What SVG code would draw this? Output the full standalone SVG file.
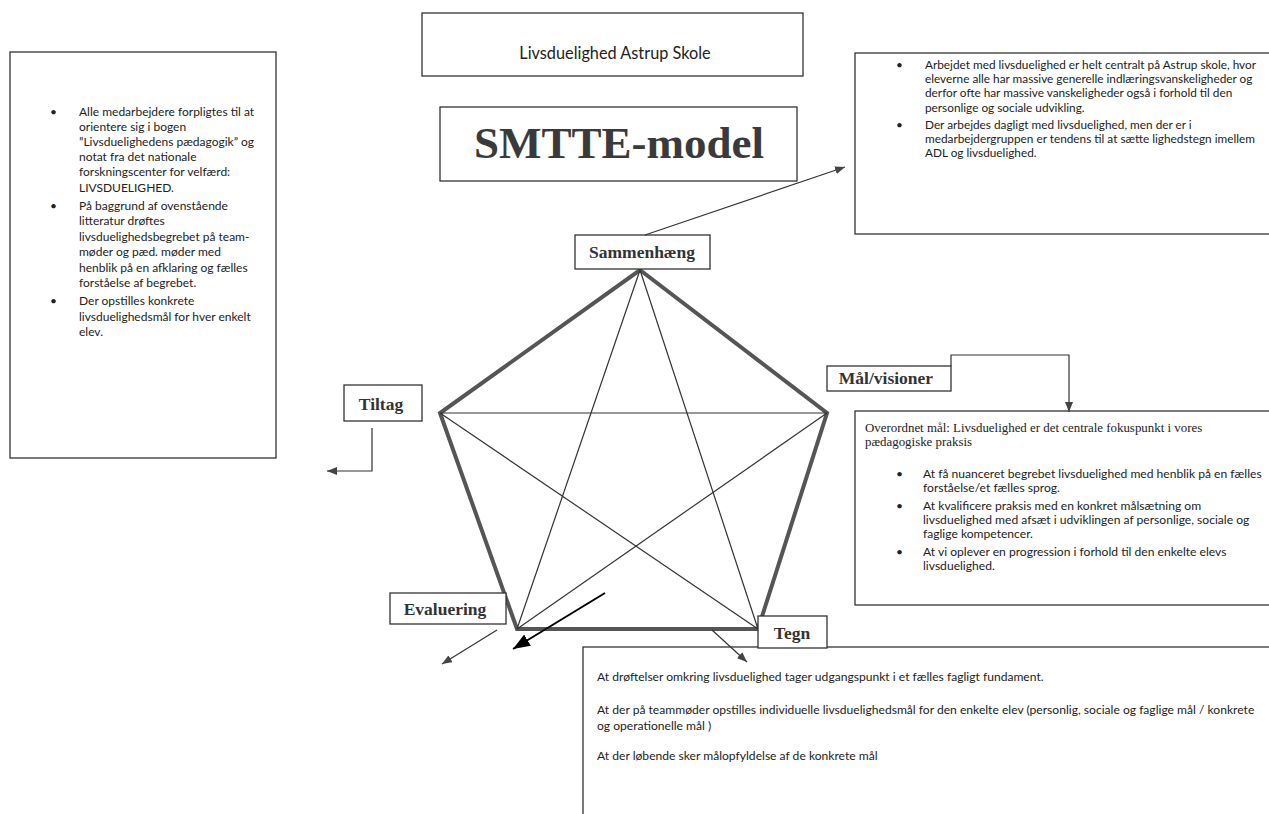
<svg xmlns="http://www.w3.org/2000/svg" width="1269" height="814" viewBox="0 0 1269 814">
<defs>
<style>
.box{fill:#fff;stroke:#333;stroke-width:1.3}
.txt{font-family:Lato,"Liberation Sans",sans-serif;font-size:11.8px;fill:#222}
.tl{font-size:12px}
.tb{font-size:12.1px}
.ser{font-family:"Liberation Serif","Times New Roman",serif;font-size:12.9px;fill:#222}
.lbl{font-family:"Liberation Serif","Times New Roman",serif;font-weight:bold;font-size:17.5px;fill:#333}
.edge{fill:none;stroke:#555;stroke-width:4;stroke-linejoin:miter}
.diag{stroke:#333;stroke-width:1.2}
.con{fill:none;stroke:#333;stroke-width:1.2}
.big{fill:none;stroke:#000;stroke-width:2}
</style>
<marker id="arr" markerUnits="userSpaceOnUse" markerWidth="11" markerHeight="9" refX="10" refY="4" orient="auto">
<path d="M0,0 L10,4 L0,8 z" fill="#444"/>
</marker>
<marker id="arrBig" markerUnits="userSpaceOnUse" markerWidth="18" markerHeight="14" refX="17" refY="6.5" orient="auto">
<path d="M0,0 L17,6.5 L0,13 z" fill="#000"/>
</marker>
</defs>
<rect width="1269" height="814" fill="#fff"/>

<g id="pentagon">
<polygon class="edge" points="640,270 827,413 758,629 517,629 440,413"/>
<line class="diag" x1="640" y1="270" x2="517" y2="629"/>
<line class="diag" x1="640" y1="270" x2="758" y2="629"/>
<line class="diag" x1="440" y1="413" x2="827" y2="413"/>
<line class="diag" x1="440" y1="413" x2="758" y2="629"/>
<line class="diag" x1="827" y1="413" x2="517" y2="629"/>
</g>

<g id="left-box">
<rect class="box" x="10" y="52" width="266" height="406"/>
<g class="txt tl">
<text x="50" y="116">•</text>
<text x="79" y="116">Alle medarbejdere forpligtes til at</text>
<text x="79" y="131">orientere sig i bogen</text>
<text x="79" y="146">”Livsduelighedens pædagogik” og</text>
<text x="79" y="161">notat fra det nationale</text>
<text x="79" y="176">forskningscenter for velfærd:</text>
<text x="79" y="192">LIVSDUELIGHED.</text>
<text x="50" y="210">•</text>
<text x="79" y="210">På baggrund af ovenstående</text>
<text x="79" y="225">litteratur drøftes</text>
<text x="79" y="241">livsduelighedsbegrebet på team-</text>
<text x="79" y="256">møder og pæd. møder med</text>
<text x="79" y="272">henblik på en afklaring og fælles</text>
<text x="79" y="287">forståelse af begrebet.</text>
<text x="50" y="305">•</text>
<text x="79" y="305">Der opstilles konkrete</text>
<text x="79" y="321">livsduelighedsmål for hver enkelt</text>
<text x="79" y="336">elev.</text>
</g>
</g>

<g id="title">
<rect class="box" x="422" y="13" width="381" height="63"/>
<text x="615" y="59" text-anchor="middle" style="font-family:Lato,'Liberation Sans',sans-serif;font-size:16.3px;fill:#222">Livsduelighed Astrup Skole</text>
</g>

<g id="smtte">
<rect class="box" x="440" y="107" width="357" height="74"/>
<text x="619" y="158" text-anchor="middle" style="font-family:'Liberation Serif','Times New Roman',serif;font-weight:bold;font-size:45px;fill:#3a3a3a">SMTTE-model</text>
</g>

<g id="context-box">
<rect class="box" x="855" y="53" width="430" height="181"/>
<g class="txt">
<text x="896" y="69">•</text>
<text x="925" y="69">Arbejdet med livsduelighed er helt centralt på Astrup skole, hvor</text>
<text x="925" y="83">eleverne alle har massive generelle indlæringsvanskeligheder og</text>
<text x="925" y="97">derfor ofte har massive vanskeligheder også i forhold til den</text>
<text x="925" y="112">personlige og sociale udvikling.</text>
<text x="896" y="129">•</text>
<text x="925" y="129">Der arbejdes dagligt med livsduelighed, men der er i</text>
<text x="925" y="143">medarbejdergruppen er tendens til at sætte lighedstegn imellem</text>
<text x="925" y="157">ADL og livsduelighed.</text>
</g>
</g>

<g id="sammenhaeng">
<rect class="box" x="575" y="235" width="135" height="34"/>
<text x="642" y="258" text-anchor="middle" class="lbl">Sammenhæng</text>
</g>

<g id="maal-label">
<rect class="box" x="827" y="366" width="124" height="25"/>
<text x="886" y="384" text-anchor="middle" class="lbl">Mål/visioner</text>
</g>

<g id="maal-box">
<rect class="box" x="855" y="411" width="430" height="194"/>
<g class="ser">
<text x="865" y="432">Overordnet mål: Livsduelighed er det centrale fokuspunkt i vores</text>
<text x="865" y="446">pædagogiske praksis</text>
</g>
<g class="txt tb">
<text x="896" y="478">•</text>
<text x="923" y="478">At få nuanceret begrebet livsduelighed med henblik på en fælles</text>
<text x="923" y="492">forståelse/et fælles sprog.</text>
<text x="896" y="510">•</text>
<text x="923" y="510">At kvalificere praksis med en konkret målsætning om</text>
<text x="923" y="524">livsduelighed med afsæt i udviklingen af personlige, sociale og</text>
<text x="923" y="538">faglige kompetencer.</text>
<text x="896" y="556">•</text>
<text x="923" y="556">At vi oplever en progression i forhold til den enkelte elevs</text>
<text x="923" y="570">livsduelighed.</text>
</g>
</g>

<g id="tiltag">
<rect class="box" x="344" y="385" width="78" height="36"/>
<text x="381" y="410" text-anchor="middle" class="lbl">Tiltag</text>
</g>

<g id="evaluering">
<rect class="box" x="390" y="593" width="116" height="31"/>
<text x="445" y="615" text-anchor="middle" class="lbl">Evaluering</text>
</g>

<g id="tegn-box">
<rect class="box" x="583" y="647" width="700" height="180"/>
<g class="txt tb">
<text x="597" y="681">At drøftelser omkring livsduelighed tager udgangspunkt i et fælles fagligt fundament.</text>
<text x="597" y="714">At der på teammøder opstilles individuelle livsduelighedsmål for den enkelte elev (personlig, sociale og faglige mål / konkrete</text>
<text x="597" y="730">og operationelle mål )</text>
<text x="597" y="760">At der løbende sker målopfyldelse af de konkrete mål</text>
</g>
</g>

<g id="tegn">
<rect class="box" x="758" y="616" width="69" height="32"/>
<text x="792" y="639" text-anchor="middle" class="lbl">Tegn</text>
</g>

<g id="connectors">
<line class="con" x1="645" y1="235" x2="845" y2="167" marker-end="url(#arr)"/>
<polyline class="con" points="951,366 951,355 1069,355 1069,412" marker-end="url(#arr)"/>
<polyline class="con" points="372,428 372,471 327,471" marker-end="url(#arr)"/>
<line class="con" x1="497" y1="630" x2="442" y2="664" marker-end="url(#arr)"/>
<line class="con" x1="712" y1="630" x2="747" y2="662" marker-end="url(#arr)"/>
<line class="big" x1="605" y1="593" x2="513" y2="649" marker-end="url(#arrBig)"/>
</g>
</svg>
